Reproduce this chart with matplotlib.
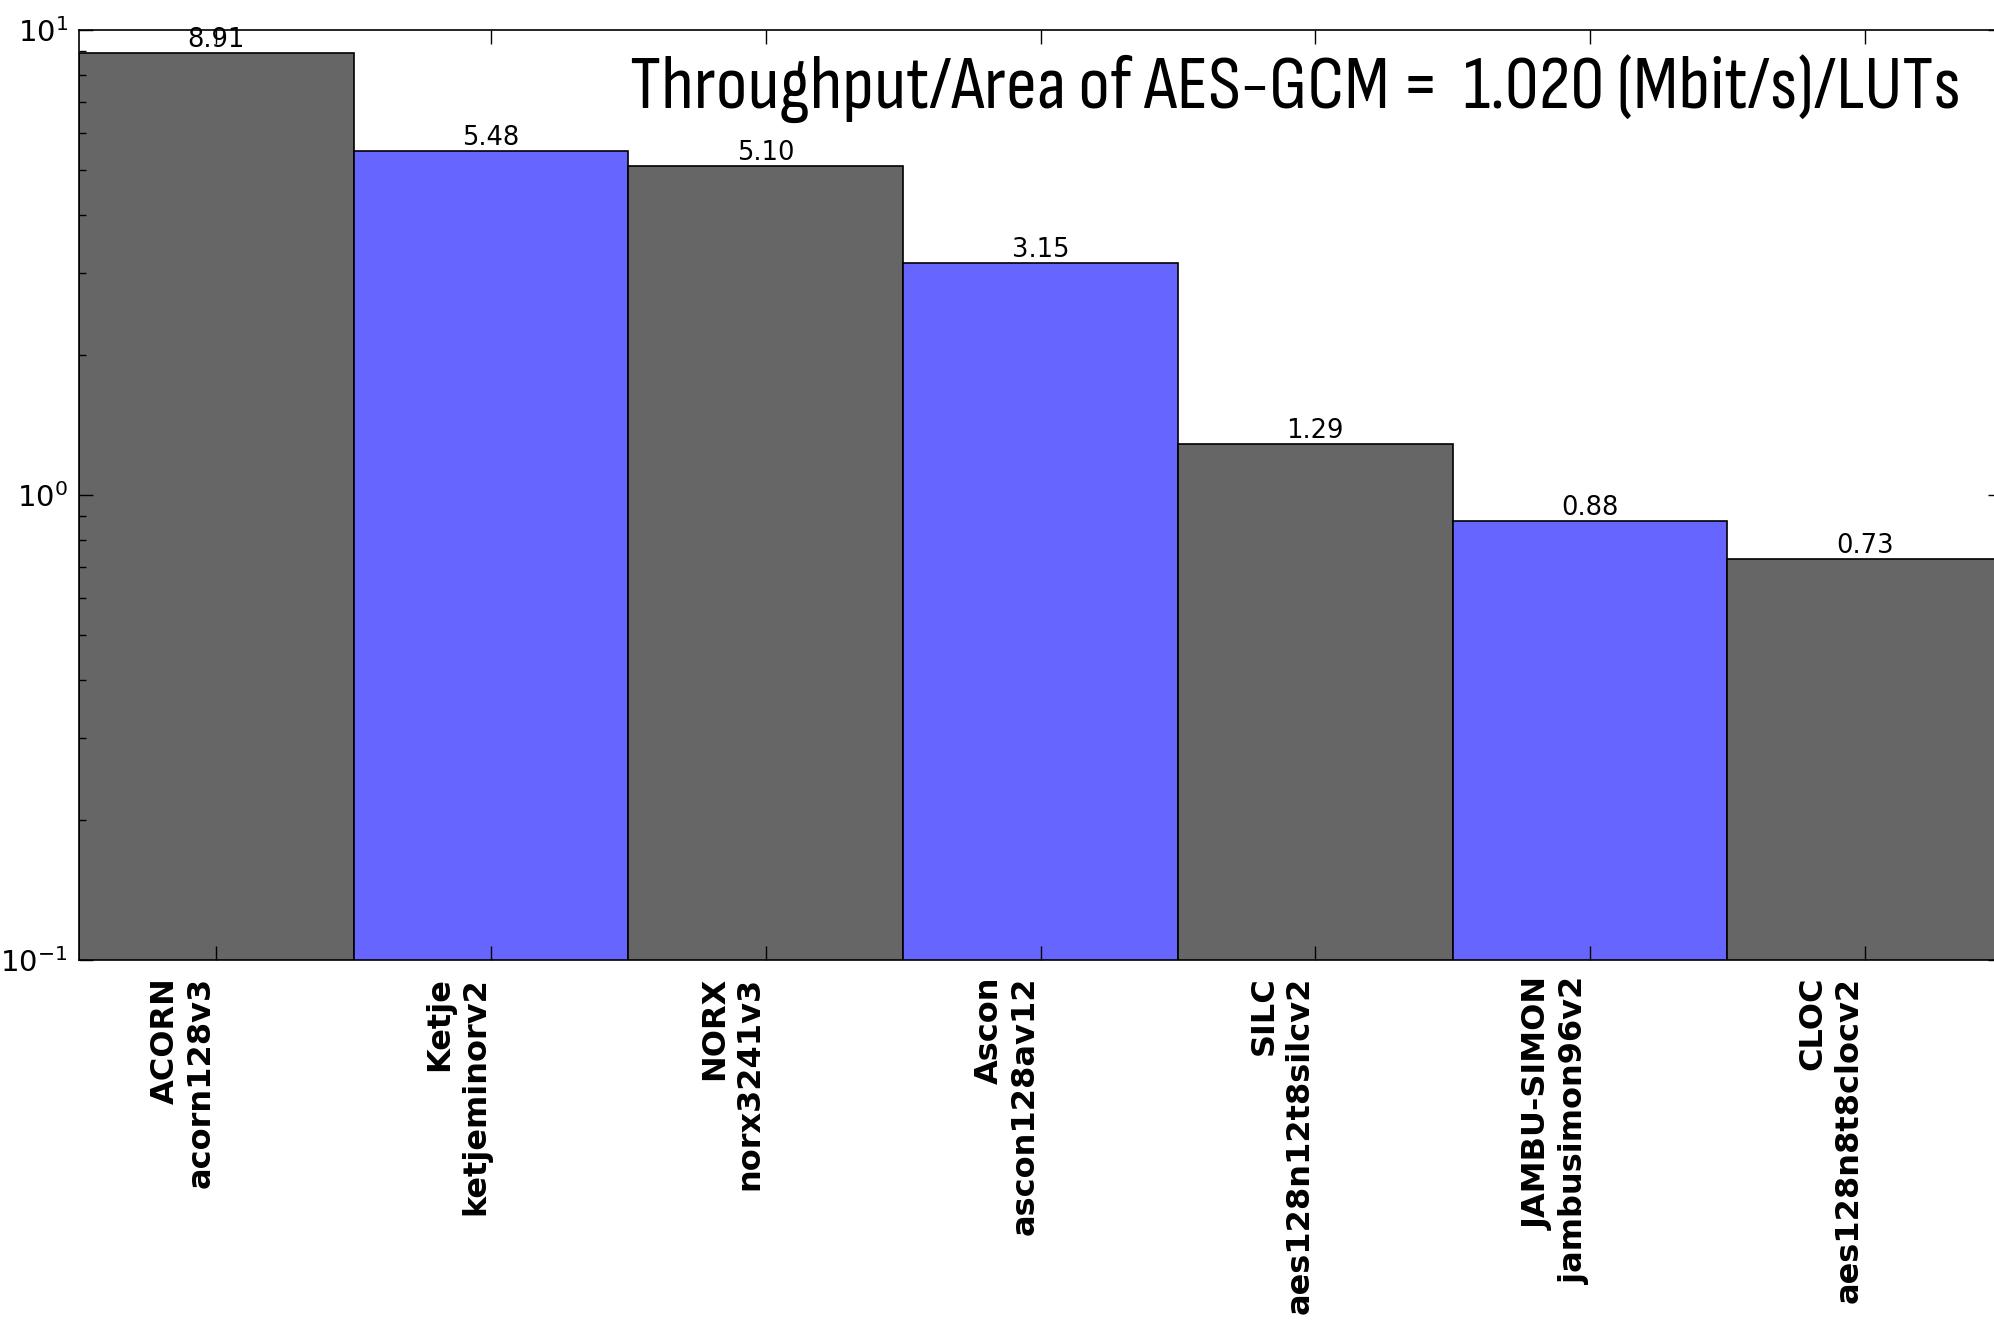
import numpy as np
import matplotlib
matplotlib.use("Agg")
import matplotlib.pyplot as plt
from matplotlib import font_manager
from matplotlib.textpath import TextPath

# throughput/area ratios vs AES-GCM
families = ["ACORN", "Ketje", "NORX", "Ascon", "SILC", "JAMBU-SIMON", "CLOC"]
variants = ["acorn128v3", "ketjeminorv2", "norx3241v3", "ascon128av12",
            "aes128n12t8silcv2", "jambusimon96v2", "aes128n8t8clocv2"]
ratios = [8.91, 5.48, 5.10, 3.15, 1.29, 0.88, 0.73]
bar_colors = ["#666666", "#6666ff", "#666666", "#6666ff", "#666666", "#6666ff", "#666666"]
aes_gcm_ratio = 1.020

title_str = "Throughput/Area of AES-GCM =  %.3f (Mbit/s)/LUTs" % aes_gcm_ratio


def pick_font(s, target_ratio):
    # the original used Arial Narrow: find the installed sans whose
    # width/cap-height ratio for this string is closest
    best, best_d = None, None
    seen = set()
    for f in font_manager.fontManager.ttflist:
        name = f.name.lower()
        if f.fname in seen or f.style != "normal" or f.weight not in (400, "normal", "regular"):
            continue
        if not any(k in name for k in ("sans", "roboto", "lato", "inter")):
            continue
        if "mono" in name or "cjk" in name:
            continue
        seen.add(f.fname)
        fp = font_manager.FontProperties(fname=f.fname)
        try:
            cap = TextPath((0, 0), "T", size=100, prop=fp).get_extents().height
            w = TextPath((0, 0), s, size=100, prop=fp).get_extents().width
        except Exception:
            continue
        d = abs(w / cap - target_ratio)
        if best_d is None or d < best_d:
            best, best_d = fp, d
    return best


fig = plt.figure(figsize=(19.94, 13.21), dpi=100)
ax = fig.add_axes([79 / 1994, 1 - 960 / 1321, 1923 / 1994, 930 / 1321])

pos = np.arange(len(ratios))
ax.bar(pos, ratios, width=1.0, align="edge", color=bar_colors,
       edgecolor="black", linewidth=1.2)

for x, v in zip(pos, ratios):
    ax.annotate("%.2f" % v, (x + 0.5, v), xytext=(0, 0), textcoords="offset points",
                ha="center", va="bottom", fontsize=18.5)

ax.set_yscale("log")
ax.set_ylim(0.1, 10)
ax.set_xlim(0, len(ratios))

labels = [f + "\n" + v for f, v in zip(families, variants)]
ax.set_xticks(pos + 0.5)
ax.set_xticklabels(labels, rotation=90, ha="right", ma="right",
                   fontsize=23, fontweight="bold")

ax.tick_params(axis="both", which="both", direction="in", top=True, right=True)
ax.tick_params(axis="both", which="major", length=10, width=1)
ax.tick_params(axis="y", which="minor", length=5, width=1)
ax.tick_params(axis="y", which="major", labelsize=21, pad=8)
ax.tick_params(axis="x", which="major", pad=12)

for s in ax.spines.values():
    s.set_linewidth(1.2)

# target: ~1325 px wide, ~50 px cap height
fp = pick_font(title_str, 1325 / 50)
if fp is None:
    fp = font_manager.FontProperties(family="Liberation Sans")
w100 = TextPath((0, 0), title_str, size=100, prop=fp).get_extents().width
fsize = 100 * (1325 / w100) * 72 / 100

ax.text((630 - 79) / 1923, (960 - 108) / 930, title_str,
        transform=ax.transAxes, ha="left", va="baseline",
        fontproperties=fp, fontsize=fsize)

fig.savefig("out.png", dpi=100)
